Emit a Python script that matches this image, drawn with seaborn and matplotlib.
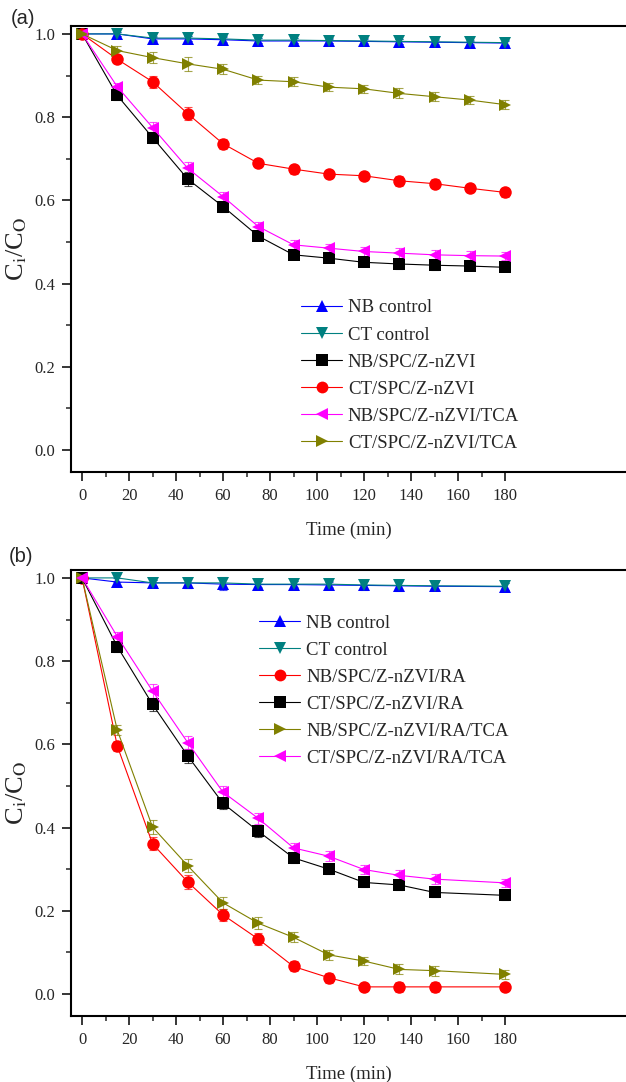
import numpy as np
import pandas as pd
import seaborn as sns
import matplotlib.pyplot as plt

# == Data == #

time_a = [0, 15, 30, 45, 60, 75, 90, 105, 120, 135, 150, 165, 180]
time_b = [0, 15, 30, 45, 60, 75, 90, 105, 120, 135, 150, 180]

# -- panel (a)
nb_ctrl_a = [1.0, 1.0, 0.988, 0.988, 0.986, 0.983, 0.983, 0.983, 0.982, 0.981, 0.980, 0.979, 0.978]
ct_ctrl_a = [1.0, 1.0, 0.990, 0.990, 0.988, 0.985, 0.985, 0.984, 0.983, 0.982, 0.981, 0.980, 0.979]
nb_spc_a = [1.0, 0.852, 0.751, 0.651, 0.585, 0.514, 0.469, 0.461, 0.451, 0.447, 0.444, 0.442, 0.439]
ct_spc_a = [1.0, 0.939, 0.885, 0.808, 0.736, 0.689, 0.675, 0.663, 0.659, 0.647, 0.640, 0.629, 0.619]
nb_tca_a = [1.0, 0.873, 0.775, 0.677, 0.609, 0.537, 0.493, 0.485, 0.477, 0.473, 0.469, 0.467, 0.466]
ct_tca_a = [1.0, 0.960, 0.943, 0.928, 0.915, 0.889, 0.885, 0.872, 0.868, 0.857, 0.849, 0.841, 0.830]

err_ctrl_a = [0.003, 0.004, 0.005, 0.006, 0.007, 0.006, 0.006, 0.005, 0.006, 0.006, 0.006, 0.005, 0.006]
err_spc_a = [0.004, 0.010, 0.014, 0.016, 0.012, 0.010, 0.011, 0.010, 0.010, 0.012, 0.011, 0.010, 0.010]

# -- panel (b)
nb_ctrl_b = [1.0, 0.990, 0.988, 0.988, 0.985, 0.984, 0.984, 0.983, 0.982, 0.981, 0.980, 0.979]
ct_ctrl_b = [1.0, 1.0, 0.988, 0.988, 0.988, 0.985, 0.985, 0.985, 0.983, 0.982, 0.981, 0.980]
nb_ra_b = [1.0, 0.596, 0.361, 0.269, 0.190, 0.132, 0.066, 0.039, 0.017, 0.017, 0.017, 0.017]
ct_ra_b = [1.0, 0.835, 0.696, 0.572, 0.458, 0.391, 0.327, 0.300, 0.268, 0.262, 0.244, 0.237]
nb_ra_tca_b = [1.0, 0.634, 0.401, 0.308, 0.219, 0.170, 0.136, 0.094, 0.079, 0.059, 0.056, 0.047]
ct_ra_tca_b = [1.0, 0.859, 0.728, 0.604, 0.485, 0.422, 0.351, 0.331, 0.299, 0.285, 0.276, 0.267]

err_ctrl_b = [0.004, 0.010, 0.008, 0.012, 0.014, 0.008, 0.008, 0.008, 0.010, 0.012, 0.010, 0.008]
err_ra_b = [0.004, 0.012, 0.016, 0.016, 0.014, 0.014, 0.012, 0.012, 0.010, 0.012, 0.012, 0.010]

labels_a = ['NB control', 'CT control', 'NB/SPC/Z-nZVI', 'CT/SPC/Z-nZVI',
            'NB/SPC/Z-nZVI/TCA', 'CT/SPC/Z-nZVI/TCA']
labels_b = ['NB control', 'CT control', 'NB/SPC/Z-nZVI/RA', 'CT/SPC/Z-nZVI/RA',
            'NB/SPC/Z-nZVI/RA/TCA', 'CT/SPC/Z-nZVI/RA/TCA']

values_a = [nb_ctrl_a, ct_ctrl_a, nb_spc_a, ct_spc_a, nb_tca_a, ct_tca_a]
values_b = [nb_ctrl_b, ct_ctrl_b, nb_ra_b, ct_ra_b, nb_ra_tca_b, ct_ra_tca_b]
errs_a = [err_ctrl_a, err_ctrl_a, err_spc_a, err_spc_a, err_spc_a, err_spc_a]
errs_b = [err_ctrl_b, err_ctrl_b, err_ra_b, err_ra_b, err_ra_b, err_ra_b]

# style per series: (color, marker)
styles_a = [('#0000ff', '^'), ('#008080', 'v'), ('#000000', 's'),
            ('#ff0000', 'o'), ('#ff00ff', '<'), ('#808000', '>')]
styles_b = [('#0000ff', '^'), ('#008080', 'v'), ('#ff0000', 'o'),
            ('#000000', 's'), ('#808000', '>'), ('#ff00ff', '<')]

# == Figure == #

sns.set_style('ticks')
plt.rcParams['font.family'] = ['Liberation Serif', 'DejaVu Serif']
plt.rcParams['mathtext.fontset'] = 'stix'

fig = plt.figure(figsize=(6.26, 10.82), dpi=100)
W, H = 626, 1082


def px_axes(left, top, right, bottom):
    return fig.add_axes([left / W, 1 - bottom / H, (right - left) / W, (bottom - top) / H])


ax_a = px_axes(71, 26, 627, 472)
ax_b = px_axes(71, 570, 627, 1016)


def draw_panel(ax, time, labels, values, errs, styles, legend_xy):
    rows = []
    for lab, vals in zip(labels, values):
        for t, v in zip(time, vals):
            rows.append({'Time (min)': t, 'C': v, 'series': lab})
    df = pd.DataFrame(rows)
    palette = {lab: st[0] for lab, st in zip(labels, styles)}
    markers = {lab: st[1] for lab, st in zip(labels, styles)}
    # error bars first, under the markers
    for lab, vals, err, st in zip(labels, values, errs, styles):
        ax.errorbar(time, vals, yerr=err, fmt='none', ecolor=st[0],
                    elinewidth=0.8, capsize=3, capthick=0.8, alpha=0.7, zorder=2)
    sns.lineplot(data=df, x='Time (min)', y='C', hue='series', style='series',
                 palette=palette, markers=markers, dashes=False, hue_order=labels,
                 style_order=labels, linewidth=0.8, markersize=9,
                 markeredgewidth=0, ax=ax, zorder=3)
    ax.set_xlim(-4.7, 231.9)
    ax.set_ylim(-0.053, 1.019)
    ax.set_xticks(np.arange(0, 181, 20))
    ax.set_xticks(np.arange(0, 181, 10), minor=True)
    ax.set_yticks(np.arange(0, 1.01, 0.2))
    ax.set_yticks(np.arange(0, 1.01, 0.1), minor=True)
    ax.set_yticklabels(['%.1f' % v for v in np.arange(0, 1.01, 0.2)])
    ax.tick_params(which='major', direction='out', length=6.5, width=1.3,
                   labelsize=12, pad=5)
    ax.tick_params(which='minor', direction='out', length=3.5, width=1.1)
    for s in ax.spines.values():
        s.set_linewidth(1.5)
        s.set_color('black')
    ax.spines['right'].set_visible(False)
    ax.set_xlabel('Time (min)', fontsize=13.5, labelpad=13)
    ax.set_ylabel(r'C$_\mathrm{i}$/C$_\mathrm{O}$', fontsize=19, labelpad=4)
    leg = ax.legend(loc='upper left', bbox_to_anchor=legend_xy, frameon=False,
                    fontsize=13.5, handlelength=2.2, handletextpad=0.3,
                    labelspacing=0.53, borderaxespad=0)
    for h in leg.legend_handles:
        h.set_markersize(8.5)


draw_panel(ax_a, time_a, labels_a, values_a, errs_a, styles_a, (0.40, 0.404))
draw_panel(ax_b, time_b, labels_b, values_b, errs_b, styles_b, (0.325, 0.917))

fig.text(11 / W, 1 - 19 / H, '(a)', family='Liberation Sans', fontsize=14.5, va='center')
fig.text(9 / W, 1 - 557 / H, '(b)', family='Liberation Sans', fontsize=14.5, va='center')

plt.savefig('out.png', dpi=100)
